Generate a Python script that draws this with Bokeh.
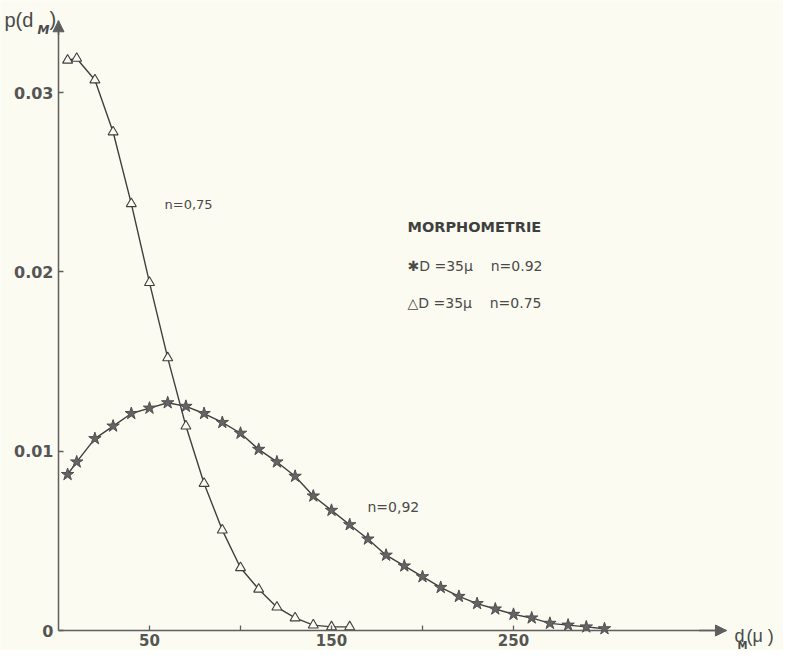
from bokeh.plotting import figure
from bokeh.models import Label, Arrow, NormalHead, FixedTicker, Range1d
from bokeh.embed import file_html
from bokeh.resources import INLINE

# ---- data ----
x_star = [5, 10, 20, 30, 40, 50, 60, 70, 80, 90, 100, 110, 120, 130, 140, 150,
          160, 170, 180, 190, 200, 210, 220, 230, 240, 250, 260, 270, 280, 290, 300]
y_star = [0.0087, 0.0094, 0.0107, 0.0114, 0.0121, 0.0124, 0.0127, 0.0125, 0.0121,
          0.0116, 0.0110, 0.0101, 0.0094, 0.0086, 0.0075, 0.0067, 0.0059, 0.0051,
          0.0042, 0.0036, 0.0030, 0.0024, 0.0019, 0.0015, 0.0012, 0.0009, 0.0007,
          0.0004, 0.0003, 0.0002, 0.0001]

x_tri = [5, 10, 20, 30, 40, 50, 60, 70, 80, 90, 100, 110, 120, 130, 140, 150, 160]
y_tri = [0.0318, 0.0319, 0.0307, 0.0278, 0.0238, 0.0194, 0.0152, 0.0114, 0.0082,
         0.0056, 0.0035, 0.0023, 0.0013, 0.0007, 0.0003, 0.0002, 0.0002]

x_ticks = [50, 150, 250]
x_minor_ticks = [100, 200]
y_ticks = [0, 0.01, 0.02, 0.03]
y_tick_labels = ["0", "0.01", "0.02", "0.03"]

# extent of the drawn axes (arrow tips)
x_axis_end = 367
y_axis_end = 0.0340

# visible window (whole canvas is the plotting frame; axes sit at x=0, y=0)
W, H = 783, 650
X0_PX, Y0_PX = 58, 630          # canvas position of the origin
X_SCALE = 1.82                  # px per x unit
Y_SCALE = 17933.0               # px per y unit
x_lo, x_hi = -X0_PX / X_SCALE, (W - X0_PX) / X_SCALE
y_lo, y_hi = -(H - Y0_PX) / Y_SCALE, Y0_PX / Y_SCALE

BG = "#fbfbf1"
INK = "#3f3f3f"
AX = "#5e5e5e"
TXT = "#4a4a4a"
FONT = "DejaVu Sans"
FONT2 = "Liberation Sans"

p = figure(width=W, height=H, output_backend="svg", toolbar_location=None,
           title=None,
           x_range=Range1d(x_lo, x_hi), y_range=Range1d(y_lo, y_hi),
           min_border=0, min_border_left=0, min_border_right=0,
           min_border_top=0, min_border_bottom=0,
           background_fill_color=BG, border_fill_color=BG,
           outline_line_color=None)
p.grid.visible = False

for ax in (p.xaxis[0], p.yaxis[0]):
    ax.fixed_location = 0
    ax.axis_line_color = AX
    ax.axis_line_width = 1.5
    ax.major_tick_in = 5
    ax.major_tick_out = 0
    ax.minor_tick_in = 5
    ax.minor_tick_out = 0
    ax.major_tick_line_color = AX
    ax.minor_tick_line_color = AX
    ax.major_tick_line_width = 1.3
    ax.minor_tick_line_width = 1.3
    ax.major_label_text_font = FONT
    ax.major_label_text_font_style = "bold"
    ax.major_label_text_color = "#555555"

p.xaxis.bounds = (0, x_axis_end)
p.xaxis.ticker = FixedTicker(ticks=x_ticks, minor_ticks=x_minor_ticks)
p.xaxis.major_label_text_font_size = "15px"
p.xaxis.major_label_standoff = 3

p.yaxis.bounds = (0, y_axis_end)
p.yaxis.ticker = FixedTicker(ticks=y_ticks, minor_ticks=[])
p.yaxis.major_label_overrides = {t: s for t, s in zip(y_ticks, y_tick_labels)}
p.yaxis.major_label_text_font_size = "16px"
p.yaxis.major_label_standoff = 5

# axis arrow heads
p.add_layout(Arrow(end=NormalHead(size=11, fill_color=AX, line_color=AX, line_width=1),
                   x_start=x_axis_end - 15, y_start=0, x_end=x_axis_end, y_end=0,
                   line_color=AX, line_width=1.5))
p.add_layout(Arrow(end=NormalHead(size=11, fill_color=AX, line_color=AX, line_width=1),
                   x_start=0, y_start=y_axis_end - 0.0008, x_end=0, y_end=y_axis_end,
                   line_color=AX, line_width=1.5))

# curves and markers
p.line(x_star, y_star, line_color=INK, line_width=1.4)
p.line(x_tri, y_tri, line_color=INK, line_width=1.4)
p.scatter(x_star, y_star, marker="star", size=13, fill_color="#646464",
          line_color="#4f4f4f", line_width=1)
p.scatter(x_tri, y_tri, marker="triangle", size=10, fill_color=BG,
          line_color=INK, line_width=1.1)


def at(px, py):
    """position (of a text) in the reference picture's pixels -> data coordinates"""
    return (px - 66) / 1.82, (643 - py) / 18100.0


def label(text, px, py, size, style="normal", align="left", baseline="middle",
          color=TXT, font=FONT):
    x, y = at(px, py)
    p.add_layout(Label(x=x, y=y, text=text, text_font=font, text_font_size=size,
                       text_font_style=style, text_color=color, text_align=align,
                       text_baseline=baseline))


NB = "\u00a0"

# axis titles
label("p(d", 12, 27, "20px", baseline="alphabetic", font=FONT2)
label("M", 45, 37, "12px", style="bold italic", baseline="alphabetic")
label(")", 57, 26, "20px", baseline="alphabetic", font=FONT2)
label("d", 742, 649, "18px", baseline="alphabetic", font=FONT2)
label("M", 745, 658, "10px", style="bold", baseline="alphabetic")
label("(\u03bc" + NB + ")", 754, 649, "18px", baseline="alphabetic", font=FONT2)

# curve labels
label("n=0,75", 172, 213, "13px")
label("n=0,92", 375, 518, "14px")

# legend block
label("MORPHOMETRIE", 415, 236, "14.5px", style="bold", color="#3f3f3f")
label("\u2731D" + NB + "=35\u03bc" + NB * 4 + "n=0.92", 415, 275, "14px")
label("\u25b3D" + NB + "=35\u03bc" + NB * 4 + "n=0.75", 415, 312, "14px")

open("out.html", "w").write(file_html(p, INLINE))
